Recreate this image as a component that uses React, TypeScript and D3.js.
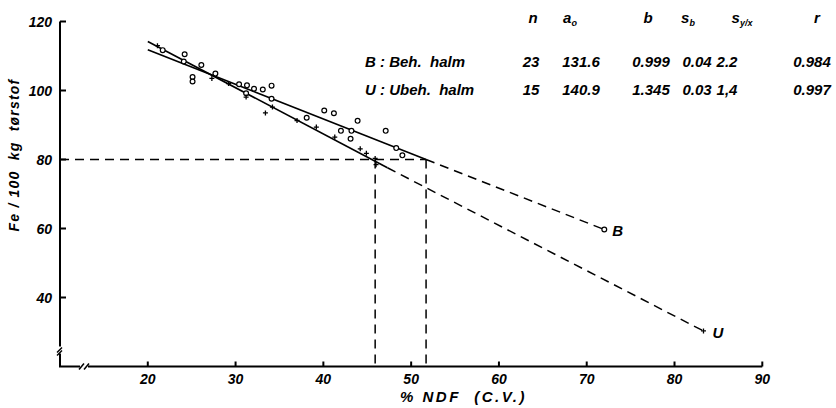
import React from 'react';
import * as d3 from 'd3';

// B: behandlet halm (circles), U: ubehandlet halm (crosses)
const bPoints: [number, number][] = [
  [21.7, 111.7], [24.2, 110.5], [24.1, 108.4], [26.1, 107.4], [25.1, 103.9],
  [25.1, 102.6], [27.7, 104.9], [30.4, 101.8], [31.3, 101.5], [32.1, 100.5],
  [33.1, 100.3], [34.1, 101.4], [31.2, 99.2], [34.1, 97.6], [38.1, 92.1],
  [40.1, 94.2], [41.2, 93.4], [43.9, 91.2], [42.0, 88.3], [43.2, 88.3],
  [43.1, 86.0], [47.1, 88.3], [48.3, 83.3], [49.0, 81.2],
];
const uPoints: [number, number][] = [
  [21.1, 113.0], [27.3, 103.5], [29.2, 102.0], [31.2, 98.1], [33.4, 93.5],
  [34.2, 95.2], [37.0, 91.3], [39.2, 89.4], [41.3, 86.5], [44.2, 83.1],
  [44.9, 81.8], [45.9, 80.3], [46.0, 78.5],
];

const bSolid: [number, number][] = [[20, 111.8], [51.7, 80]];
const bDashed: [number, number][] = [[51.7, 80], [72, 59.7]];
const uSolid: [number, number][] = [[20, 114.2], [47.3, 77.6]];
const uDashed: [number, number][] = [[47.3, 77.6], [83.3, 30.3]];

const refY = 80;
const refX = [45.9, 51.7];

const xTicks = [20, 30, 40, 50, 60, 70, 80, 90];
const yTicks = [40, 60, 80, 100, 120];

const tableHead = ['n', 'a', 'b', 's', 's', 'r'];
const tableRows = [
  { label: 'B : Beh.  halm', vals: ['23', '131.6', '0.999', '0.04', '2.2', '0.984'] },
  { label: 'U : Ubeh.  halm', vals: ['15', '140.9', '1.345', '0.03', '1,4', '0.997'] },
];
const colX = [531, 581, 651, 697, 727, 812];
const headX = [533, 570, 648, 688, 742, 817];

const App = () => {
  const width = 836;
  const height = 408;

  const x = d3.scaleLinear().domain([10, 90]).range([60, 762.3]);
  const y = d3.scaleLinear().domain([20, 120]).range([366.5, 21.5]);
  const line = d3.line<[number, number]>().x(d => x(d[0])).y(d => y(d[1]));

  const font = "'Liberation Sans', Arial, sans-serif";
  const x0 = x(10);
  const y0 = y(20);

  return (
    <svg width={width} height={height} style={{ position: 'absolute', left: 0, top: 0, background: '#fff' }}
      fontFamily={font} fontStyle="italic">
      {/* axes */}
      <g stroke="#000" strokeWidth={2} fill="none">
        <path d={`M${x0},${y(120)} V${y0 - 20}`} />
        <path d={`M${x0 - 3},${y0 - 14} L${x0 + 2},${y0 - 19}`} strokeWidth={1.5} />
        <path d={`M${x0 - 3},${y0 - 11} L${x0 + 2},${y0 - 16}`} strokeWidth={1.5} />
        <path d={`M${x0},${y0 - 13} V${y0} H${x0 + 20}`} />
        <path d={`M${x0 + 28},${y0} H${x(90)}`} />
        <path d={`M${x0 + 19},${y0 + 3} L${x0 + 24},${y0 - 3}`} strokeWidth={1.5} />
        <path d={`M${x0 + 24},${y0 + 3} L${x0 + 29},${y0 - 3}`} strokeWidth={1.5} />
        {xTicks.map(t => <path key={t} d={`M${x(t)},${y0} V${y0 - 5}`} />)}
        {yTicks.map(t => <path key={t} d={`M${x0},${y(t)} H${x0 + 6}`} />)}
      </g>
      <g fontSize={14} fontWeight="bold" fill="#000">
        {xTicks.map(t => (
          <text key={t} x={x(t)} y={y0 + 17} textAnchor="middle">{t}</text>
        ))}
        {yTicks.map(t => (
          <text key={t} x={x0 - 8} y={y(t) + 5} textAnchor="end">{t}</text>
        ))}
      </g>
      <text x={400} y={402} fontSize={15} fontWeight="bold" letterSpacing={2.5} style={{ whiteSpace: 'pre' }}>% NDF  (C.V.)</text>
      <text transform={`translate(19,155) rotate(-90)`} fontSize={14} fontWeight="bold" textAnchor="middle" letterSpacing={1.2}
        style={{ whiteSpace: 'pre' }}>
        Fe / 100  kg  tørstof
      </text>

      {/* reference dashed lines */}
      <g stroke="#000" strokeWidth={1.5} strokeDasharray="9,6" fill="none">
        <path d={`M${x0},${y(refY)} H${x(refX[1])}`} />
        {refX.map(v => <path key={v} d={`M${x(v)},${y(refY)} V${y0}`} />)}
        <path d={line(bDashed) || ''} />
        <path d={line(uDashed) || ''} />
      </g>

      {/* regression lines */}
      <g stroke="#000" strokeWidth={1.6} fill="none">
        <path d={line(bSolid) || ''} />
        <path d={line(uSolid) || ''} />
      </g>

      {/* points */}
      <g stroke="#000" strokeWidth={1.2} fill="#fff">
        {bPoints.map((d, i) => <circle key={i} cx={x(d[0])} cy={y(d[1])} r={2.4} />)}
        <circle cx={x(bDashed[1][0])} cy={y(bDashed[1][1])} r={2.4} />
      </g>
      <g stroke="#000" strokeWidth={1.3}>
        {uPoints.map((d, i) => (
          <path key={i} d={`M${x(d[0]) - 2.5},${y(d[1])} h5 M${x(d[0])},${y(d[1]) - 2.5} v5`} />
        ))}
        <path d={`M${x(uDashed[1][0]) - 2.5},${y(uDashed[1][1])} h5 M${x(uDashed[1][0])},${y(uDashed[1][1]) - 2.5} v5`} />
      </g>
      <text x={x(bDashed[1][0]) + 8} y={y(bDashed[1][1]) + 6} fontSize={15} fontWeight="bold">B</text>
      <text x={x(uDashed[1][0]) + 9} y={y(uDashed[1][1]) + 7} fontSize={15} fontWeight="bold">U</text>

      {/* regression table */}
      <g fontSize={15} fontWeight="bold" fill="#000">
        {tableHead.map((h, i) => (
          <text key={i} x={headX[i]} y={23} textAnchor="middle">
            {h}
            {i === 1 && <tspan fontSize={9} dy={3}>o</tspan>}
            {i === 3 && <tspan fontSize={9} dy={3}>b</tspan>}
            {i === 4 && <tspan fontSize={9} dy={3}>y/x</tspan>}
          </text>
        ))}
        {tableRows.map((row, r) => (
          <g key={r}>
            <text x={365} y={67 + r * 28} style={{ whiteSpace: 'pre' }}>{row.label}</text>
            {row.vals.map((v, i) => (
              <text key={i} x={colX[i]} y={67 + r * 28} textAnchor="middle">{v}</text>
            ))}
          </g>
        ))}
      </g>
    </svg>
  );
};

export default App;
